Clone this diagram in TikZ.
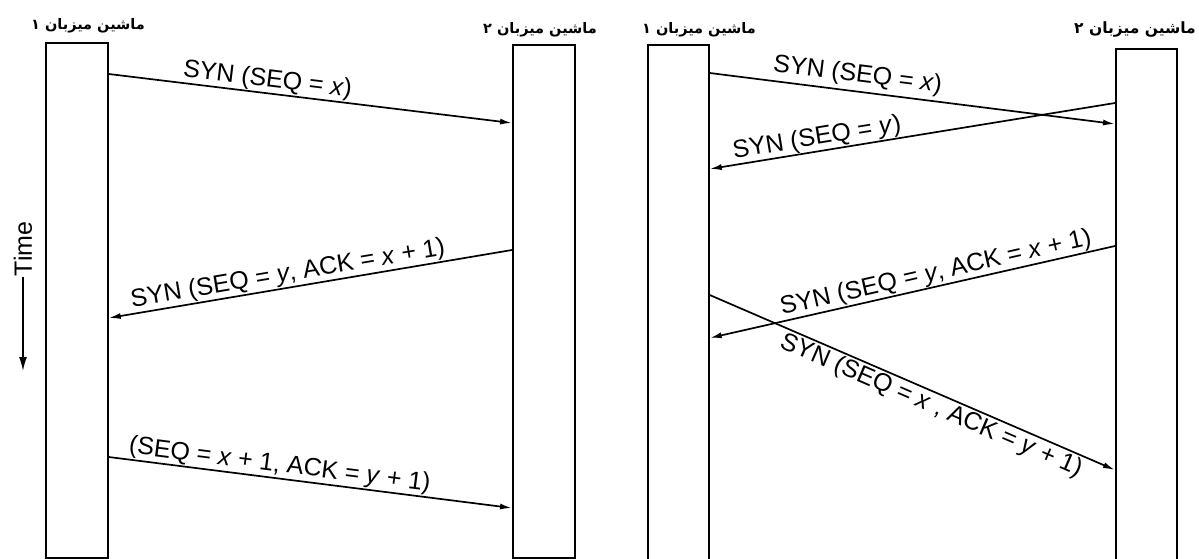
\documentclass[tikz,border=0pt]{standalone}
\usepackage{fontspec}
\setmainfont{Liberation Sans}
\newfontfamily\fa[Script=Arabic]{DejaVu Sans}
\TeXXeTstate=1
\usetikzlibrary{arrows.meta,calc}
\tikzset{
  hostbox/.style={draw, line width=1.7pt, inner sep=0pt},
  msg/.style={line width=1.7pt, -{Latex[length=12pt,width=6pt]}},
  rmsg/.style={line width=1.7pt, {Latex[length=12pt,width=6pt]}-},
  lbl/.style={font=\fontsize{25}{27}\selectfont, sloped, inner sep=0.5pt},
  host/.style={font=\fa\bfseries\fontsize{14.5}{16}\selectfont, inner sep=0pt}
}
\begin{document}
\begin{tikzpicture}[x=1pt,y=-1pt]
\useasboundingbox (0,0) rectangle (1199,559);
% boxes
\node[hostbox, minimum width=62pt, minimum height=515pt, anchor=north west] (A1) at (45,42) {};
\node[hostbox, minimum width=62pt, minimum height=513pt, anchor=north west] (A2) at (512,44) {};
\node[hostbox, minimum width=61pt, minimum height=530pt, anchor=north west] (B1) at (647,44) {};
\node[hostbox, minimum width=61pt, minimum height=526pt, anchor=north west] (B2) at (1115,48) {};
% host labels
\node[host] (hA1) at (88,26) {\beginR ماشین میزبان ۱\endR};
\node[host] (hA2) at (540,30) {\beginR ماشین میزبان ۲\endR};
\node[host] (hB1) at (699,30) {\beginR ماشین میزبان ۱\endR};
\node[host, font=\fa\bfseries\fontsize{15.5}{17}\selectfont, anchor=east] (hB2) at (1196,30) {\beginR ماشین میزبان ۲\endR};
% time
\node[rotate=90, font=\fontsize{25}{27}\selectfont, inner sep=0pt] (time) at (23,249) {Time};
\coordinate (tend) at (23,371);
\draw[line width=1.7pt, -{Latex[length=14pt,width=8pt]}] (time.west) -- (tend);
% left diagram
\draw[msg] (A1.east |- 0,74) -- node[lbl, pos=0.39, above] {SYN (SEQ = \textit{x})} (A2.west |- 0,123);
\draw[rmsg] (A1.east |- 0,318) -- node[lbl, pos=0.45, above] {SYN (SEQ = \textit{y}, ACK = \textit{x} + 1)} (A2.west |- 0,250);
\draw[msg] (A1.east |- 0,457) -- node[lbl, pos=0.42, above] {(SEQ = \textit{x} + 1, ACK = \textit{y} + 1)} (A2.west |- 0,508);
% right diagram
\draw[msg] (B1.east |- 0,73) -- node[lbl, pos=0.36, above, yshift=3pt] {SYN (SEQ = \textit{x})} (B2.west |- 0,124);
\draw[rmsg] (B1.east |- 0,169) -- node[lbl, pos=0.27, above] {SYN (SEQ = \textit{y})} (B2.west |- 0,103);
\draw[rmsg] (B1.east |- 0,338) -- node[lbl, pos=0.565, above] {SYN (SEQ = \textit{y}, ACK = \textit{x} + 1)} (B2.west |- 0,246);
\draw[msg] (B1.east |- 0,295) -- node[lbl, pos=0.56, below, yshift=-1pt] {SYN (SEQ = \textit{x} , ACK = \textit{y} + 1)} (B2.west |- 0,470);
\end{tikzpicture}
\end{document}
